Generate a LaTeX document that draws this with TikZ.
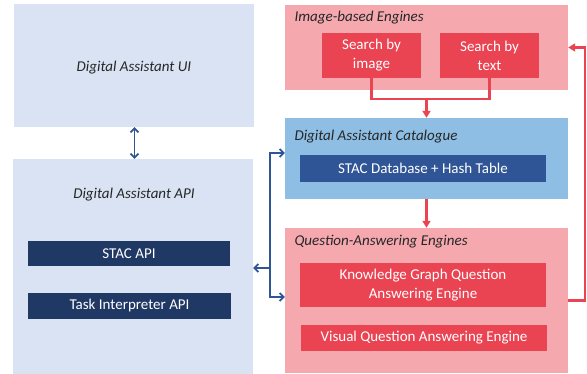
\documentclass[tikz,border=0pt]{standalone}
\usepackage{fontspec}
\setmainfont{Carlito}
\usetikzlibrary{arrows.meta}

\definecolor{uiblue}{HTML}{DAE3F3}
\definecolor{catblue}{HTML}{8EBEE3}
\definecolor{dbblue}{HTML}{2F5597}
\definecolor{navy}{HTML}{203864}
\definecolor{pinkbg}{HTML}{F5A9AF}
\definecolor{engred}{HTML}{EA4352}

\tikzset{
  panel/.style={fill=#1, draw=none, inner sep=0pt},
  item/.style={fill=#1, draw=none, text=white, align=center, inner sep=0pt,
    font=\fontsize{15}{19}\selectfont},
  title/.style={font=\fontsize{15}{19}\selectfont\itshape, text=black!85},
  redflow/.style={draw=engred, line width=2.4pt, -{Triangle[width=8pt,length=7pt]}},
  blueflow/.style={draw=dbblue, line width=1.8pt, -{Straight Barb[width=8pt,length=4pt]}},
}

\begin{document}
\begin{tikzpicture}[x=1pt, y=-1pt]
  \useasboundingbox (0,0) rectangle (587,374);

  % left column
  \node[panel=uiblue, minimum width=240pt, minimum height=123pt] (ui) at (134,65.5) {};
  \node[title] at (134,68) {Digital Assistant UI};
  \node[panel=uiblue, minimum width=240pt, minimum height=215pt] (api) at (133,266.5) {};
  \node[title] at (134,195) {Digital Assistant API};
  \node[item=navy, minimum width=202pt, minimum height=25pt] (stacapi) at (129,253.5) {STAC API};
  \node[item=navy, minimum width=203pt, minimum height=26pt] (taskapi) at (129.5,306) {Task Interpreter API};

  % right column
  \node[panel=pinkbg, minimum width=283pt, minimum height=85pt] (img) at (426.5,47.5) {};
  \node[title, anchor=west] at (291,18) {Image-based Engines};
  \node[item=engred, minimum width=99pt, minimum height=45pt] (sbi) at (371.5,55.5) {Search by\\image};
  \node[item=engred, minimum width=99pt, minimum height=45pt] (sbt) at (489.5,55.5) {Search by\\text};

  \node[panel=catblue, minimum width=283pt, minimum height=81pt] (cat) at (426.5,158.5) {};
  \node[title, anchor=west] at (291,137) {Digital Assistant Catalogue};
  \node[item=dbblue, minimum width=246pt, minimum height=27pt] (stacdb) at (423,168.5) {STAC Database + Hash Table};

  \node[panel=pinkbg, minimum width=283pt, minimum height=145pt] (qa) at (426.5,300.5) {};
  \node[title, anchor=west] at (291,242) {Question-Answering Engines};
  \node[item=engred, minimum width=246pt, minimum height=44pt] (kgqa) at (423,285) {Knowledge Graph Question\\Answering Engine};
  \node[item=engred, minimum width=246pt, minimum height=26pt] (vqa) at (424,338) {Visual Question Answering Engine};

  % red flows
  \coordinate (join) at (426.5,99);
  \draw[draw=engred, line width=2.4pt] (sbi.south) |- (join) -| (sbt.south);
  \draw[redflow] (join) -- (cat.north);
  \draw[redflow] (cat.south) -- (qa.north);
  \coordinate (fb) at (585,300.5);
  \draw[redflow] (qa.east |- fb) -- (fb) |- (img.east);

  % blue flows
  \draw[blueflow, {Straight Barb[width=8pt,length=4pt]}-{Straight Barb[width=8pt,length=4pt]}] (ui.south -| 134.5,0) -- (api.north -| 134.5,0);
  \coordinate (bt) at (270,153);
  \coordinate (bb) at (270,297);
  \draw[blueflow] (bb) -- (bt) -- (cat.west |- bt);
  \draw[blueflow] (bt) -- (bb) -- (qa.west |- bb);
  \draw[blueflow] (270,268) -- (api.east |- 0,268);
\end{tikzpicture}
\end{document}
